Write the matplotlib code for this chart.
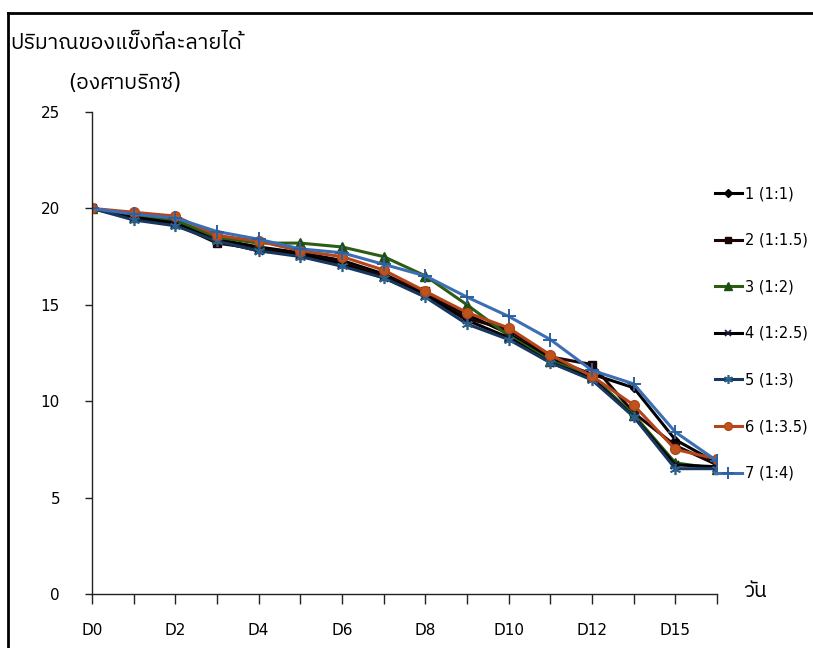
import matplotlib
matplotlib.use("Agg")
import matplotlib.pyplot as plt
from matplotlib import font_manager
from matplotlib.ft2font import FT2Font
from matplotlib.lines import Line2D

# Days (only every second one gets a label on the axis)
days = ['D0', 'D1', 'D2', 'D3', 'D4', 'D5', 'D6', 'D7', 'D8', 'D9',
        'D10', 'D11', 'D12', 'D13', 'D15', 'D16']

# Soluble solids (degree Brix) for each ratio
s1 = [20.0, 19.6, 19.3, 18.4, 18.0, 17.7, 17.3, 16.6, 15.6, 14.5, 13.5, 12.2, 11.4, 10.7, 8.0, 6.8]
s2 = [20.0, 19.5, 19.2, 18.2, 17.9, 17.6, 17.2, 16.5, 15.7, 14.3, 13.7, 12.3, 11.9, 9.4, 7.7, 6.7]
s3 = [20.0, 19.7, 19.4, 18.5, 18.2, 18.2, 18.0, 17.5, 16.5, 15.0, 13.4, 12.1, 11.3, 9.3, 6.8, 6.5]
s4 = [20.0, 19.5, 19.2, 18.3, 17.8, 17.6, 17.1, 16.4, 15.5, 14.2, 13.3, 12.0, 11.2, 9.2, 6.7, 6.6]
s5 = [20.0, 19.4, 19.1, 18.3, 17.8, 17.5, 17.0, 16.4, 15.4, 14.0, 13.2, 12.0, 11.1, 9.2, 6.5, 6.5]
s6 = [20.0, 19.8, 19.6, 18.6, 18.3, 17.8, 17.5, 16.8, 15.7, 14.6, 13.8, 12.4, 11.3, 9.8, 7.5, 7.0]
s7 = [20.0, 19.7, 19.5, 18.8, 18.4, 17.9, 17.7, 17.1, 16.5, 15.4, 14.4, 13.2, 11.6, 10.9, 8.4, 6.9]

labels = ['1 (1:1)', '2 (1:1.5)', '3 (1:2)', '4 (1:2.5)', '5 (1:3)', '6 (1:3.5)', '7 (1:4)']
yticks = [0, 5, 10, 15, 20, 25]


def find_thai_font():
    """Return the name of an installed family that has Thai glyphs"""
    found = []
    for f in font_manager.fontManager.ttflist:
        try:
            if 0x0E1B in FT2Font(f.fname).get_charmap():
                found.append(f.name)
        except Exception:
            pass
    for name in found:
        if 'Sans' in name and 'Thai' in name:
            return name
    return found[0] if found else None


thai = find_thai_font()
families = ['DejaVu Sans']
if thai:
    families.append(thai)
plt.rcParams['font.family'] = families

fig = plt.figure(figsize=(8.13, 6.48), dpi=100)
ax = fig.add_axes([92 / 813, 54 / 648, 625 / 813, 482 / 648])

styles = [
    dict(color='#000000', marker='D', ms=4.5, mfc='#000000', mec='#000000'),
    dict(color='#1c0505', marker='s', ms=6, mfc='#1c0505', mec='#1c0505'),
    dict(color='#2d5d13', marker='^', ms=7, mfc='#1f4f10', mec='#1f4f10'),
    dict(color='#000000', marker='x', ms=6, mfc='none', mec='#1a1a3a', mew=1.2),
    dict(color='#17375e', marker=(6, 2, 0), ms=8, mec='#2c5f8a', mew=1.2),
    dict(color='#b5451b', marker='o', ms=7, mfc='#c0521c', mec='#b04818'),
    dict(color='#3c6eb4', marker='+', ms=10, mec='#2f5f9f', mew=1.4),
]

series = [s1, s2, s3, s4, s5, s6, s7]
x = list(range(len(days)))
for vals, lab, st in zip(series, labels, styles):
    ax.plot(x, vals, lw=2.2, label=lab, **st)

ax.set_xlim(0, len(days) - 1)
ax.set_ylim(0, 25)
ax.set_yticks(yticks)
ax.set_xticks(x)
ax.set_xticklabels([d if i % 2 == 0 else '' for i, d in enumerate(days)])

for side in ['top', 'right']:
    ax.spines[side].set_visible(False)
for side in ['left', 'bottom']:
    ax.spines[side].set_linewidth(1.0)
    ax.spines[side].set_color('#222222')

ax.tick_params(axis='y', direction='out', length=5, width=1, pad=18,
               labelsize=11, color='#222222')
ax.tick_params(axis='x', direction='out', length=7, width=1, pad=14,
               labelsize=11, color='#222222')

leg = ax.legend(loc='upper left', bbox_to_anchor=(715 / 813, 462 / 648),
                bbox_transform=fig.transFigure, frameon=False, fontsize=10.5,
                handlelength=1.85, handletextpad=0.2, labelspacing=2.17,
                borderpad=0, borderaxespad=0, markerscale=0.8)

# Axis titles
fig.text(10 / 813, 1 - 43 / 648, 'ปริมาณของแข็งที่ละลายได้', fontsize=15.5,
         ha='left', va='center')
fig.text(68 / 813, 1 - 83 / 648, '(องศาบริกซ์)', fontsize=15,
         ha='left', va='center')
fig.text(743 / 813, 1 - 591 / 648, 'วัน', fontsize=15, ha='left', va='center')

# Outer frame (top and left edges only)
fig.add_artist(Line2D([8 / 813, 1.0], [1 - 13 / 648, 1 - 13 / 648],
                      transform=fig.transFigure, color='black', lw=2))
fig.add_artist(Line2D([8 / 813, 8 / 813], [0.0, 1 - 13 / 648],
                      transform=fig.transFigure, color='black', lw=2))

fig.savefig('out.png', dpi=100)
